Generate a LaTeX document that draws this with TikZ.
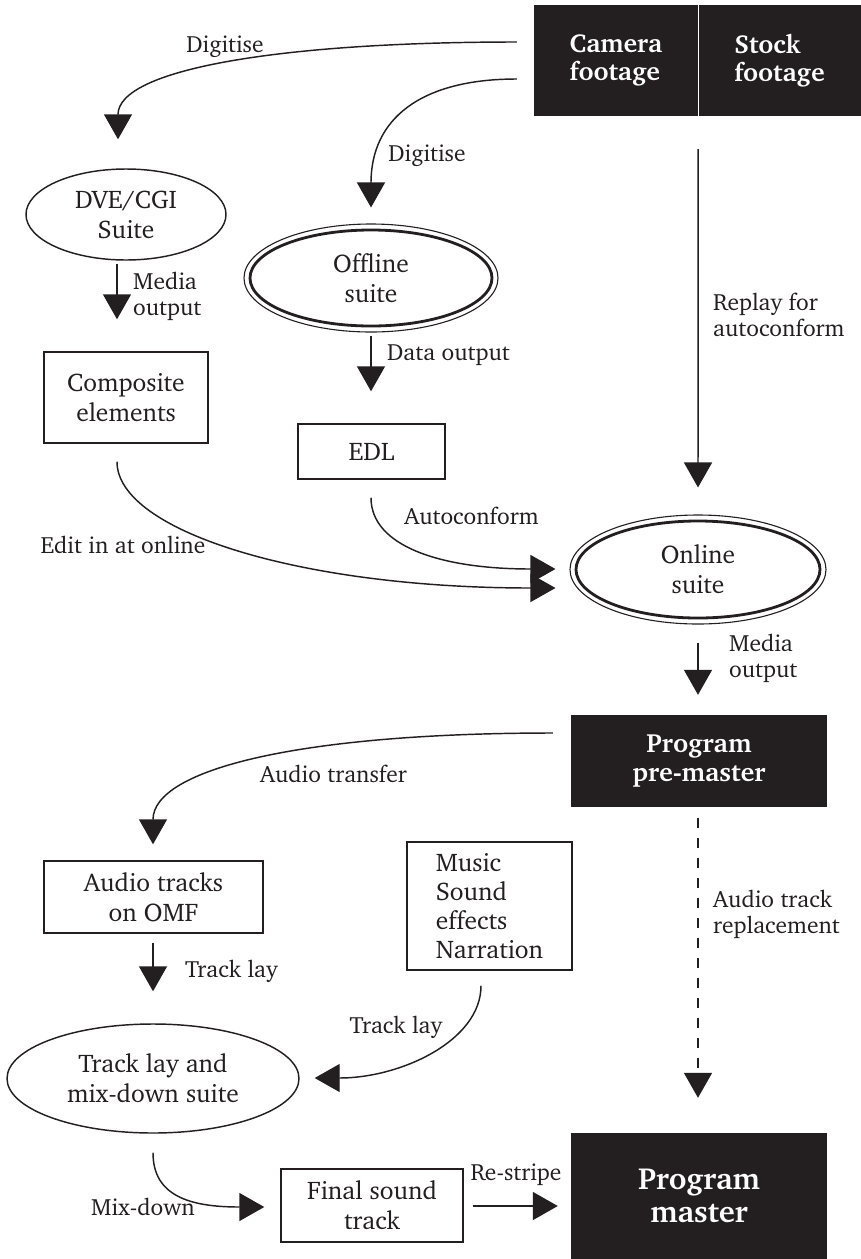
\documentclass[tikz,border=0pt]{standalone}
\usepackage[T1]{fontenc}
\usepackage{charter}
\usetikzlibrary{shapes.geometric,arrows.meta,calc}
\definecolor{ink}{HTML}{231F20}
\begin{document}
\begin{tikzpicture}[x=1pt,y=-1pt,
  every node/.style={text=ink},
  nfont/.style={font=\fontsize{25.5}{30}\selectfont},
  lw/.style={line width=1.45pt},
  wbox/.style={nfont, draw=ink, lw, rectangle, inner sep=0pt, align=center},
  bbox/.style={fill=ink, draw=none, inner sep=0pt, text=white, font=\fontsize{26}{28.5}\selectfont\bfseries},
  ell/.style={nfont, ellipse, draw=ink, lw, inner sep=0pt, align=center},
  dell/.style={nfont, ellipse, draw=ink, line width=1.1pt, inner sep=0pt, align=center},
  arr/.style={draw=ink, lw, -{Triangle[length=25pt,width=28pt]}},
  lbl/.style={font=\fontsize{23.5}{26}\selectfont, inner sep=0pt, align=left},
]
\useasboundingbox (0,0) rectangle (861,1259);
\fill[white] (0,0) rectangle (861,1259);

% nodes
\node[bbox, minimum width=164pt, minimum height=111pt, align=left] (cam) at (616,60.5) {Camera\\footage};
\node[bbox, minimum width=163pt, minimum height=111pt, align=left] (stock) at (779.5,60.5) {Stock\\footage};
\draw[white, line width=1.3pt] (cam.north east) -- (cam.south east);

\node[ell, minimum width=200pt, minimum height=91pt] (dve) at (126,214.5) {DVE/CGI\\Suite};
\node[dell, minimum width=254pt, minimum height=108pt] (off) at (371,278) {Offline\\suite};
\draw[ink, line width=2.8pt] (off.center) ellipse [x radius=121pt, y radius=48pt];
\node[wbox, minimum width=164pt, minimum height=91pt] (comp) at (126,397.5) {Composite\\elements};
\node[wbox, minimum width=147pt, minimum height=55pt] (edl) at (371.5,451.5) {EDL};
\node[dell, minimum width=256pt, minimum height=109pt] (onl) at (698,569.5) {Online\\suite};
\draw[ink, line width=2.8pt] (onl.center) ellipse [x radius=122pt, y radius=48.5pt];
\node[bbox, minimum width=256pt, minimum height=92pt, align=center, font=\fontsize{26.3}{29}\selectfont\bfseries] (pre) at (699,761) {Program\\pre-master};
\node[wbox, minimum width=219pt, minimum height=72pt] (aud) at (153.5,897) {Audio tracks\\on OMF};
\node[wbox, minimum width=165pt, minimum height=128pt, align=left, font=\fontsize{25.5}{29}\selectfont] (mus) at (489.5,906) {Music\\Sound\\effects\\Narration};
\node[ell, minimum width=292pt, minimum height=109pt] (tl) at (153,1078.5) {Track lay and\\mix-down suite};
\node[wbox, minimum width=182pt, minimum height=73pt] (fin) at (372,1205.5) {Final sound\\track};
\node[bbox, minimum width=256pt, minimum height=126pt, align=center, font=\fontsize{30.5}{33}\selectfont\bfseries] (mas) at (699,1196) {Program\\master};

% connectors
\draw[arr] ($(cam.west)+(-17,-18.5)$) .. controls +(-237,0) and +(0,-70) .. ($(dve.north)+(-8,-29)$);
\draw[arr] ($(cam.west)+(-17,18.5)$) .. controls +(-97,0) and +(0,-88) .. ($(off.north)+(0,-16)$);
\draw[arr] ($(dve.south)+(-9,3)$) -- ($(comp.north)+(-9,-32)$);
\draw[arr] ($(off.south)+(0,3)$) -- ($(edl.north)+(-0.5,-32)$);
\draw[arr] ($(cam.south east)+(0,33)$) -- ($(onl.north)+(0,-27)$);
\draw[arr] ($(edl.south)+(-0.5,18)$) .. controls +(0,48) and +(-116,0) .. ($(onl.west)+(-14,-0.5)$);
\draw[arr] ($(comp.south)+(-9,18)$) .. controls +(0,69) and +(-256,0) .. ($(onl.west)+(-14,18.5)$);
\draw[arr] ($(onl.south)+(0,18)$) -- ($(pre.north)+(-1,-20)$);
\draw[arr] ($(pre.west)+(-18,-28)$) .. controls +(-253,0) and +(0,-75) .. ($(aud.north)+(-0.5,-16)$);
\draw[arr] ($(aud.south)+(-0.5,9)$) -- ($(tl.north)+(0,-32)$);
\draw[arr, dash pattern=on 10pt off 10pt] ($(pre.south)+(-1,11)$) -- ($(mas.north)+(-1,-35)$);
\draw[arr] ($(mus.south)+(-8.5,15)$) .. controls +(0,55) and +(86,0) .. ($(tl.east)+(15,-0.5)$);
\draw[arr] ($(tl.south)+(0,19)$) .. controls +(0,43) and +(-75,0) .. ($(fin.west)+(-16,1.5)$);
\draw[arr] ($(fin.east)+(9,0.5)$) -- ($(mas.west |- fin.east)+(-13,0.5)$);

% labels
\node[lbl, anchor=base] (l1) at (225,52) {Digitise};
\node[lbl, anchor=base] (l2) at (427,161) {Digitise};
\node[lbl, anchor=west] (l3) at (133,296) {Media\\output};
\node[lbl, anchor=west] (l4) at (387,355) {Data output};
\node[lbl, anchor=west] (l5) at (713,315) {Replay for\\autoconform};
\node[lbl, anchor=base] (l6) at (471.5,524) {Autoconform};
\node[lbl, anchor=base] (l7) at (123,553) {Edit in at online};
\node[lbl, anchor=west] (l8) at (729,658) {Media\\output};
\node[lbl, anchor=base] (l9) at (333.5,782) {Audio transfer};
\node[lbl, anchor=base west] (l10) at (185,977) {Track lay};
\node[lbl, anchor=west] (l11) at (713,914) {Audio track\\replacement};
\node[lbl, anchor=base] (l12) at (396,1033) {Track lay};
\node[lbl, anchor=base] (l13) at (143,1215) {Mix-down};
\node[lbl, anchor=base] (l14) at (516,1180) {Re-stripe};
\end{tikzpicture}
\end{document}
